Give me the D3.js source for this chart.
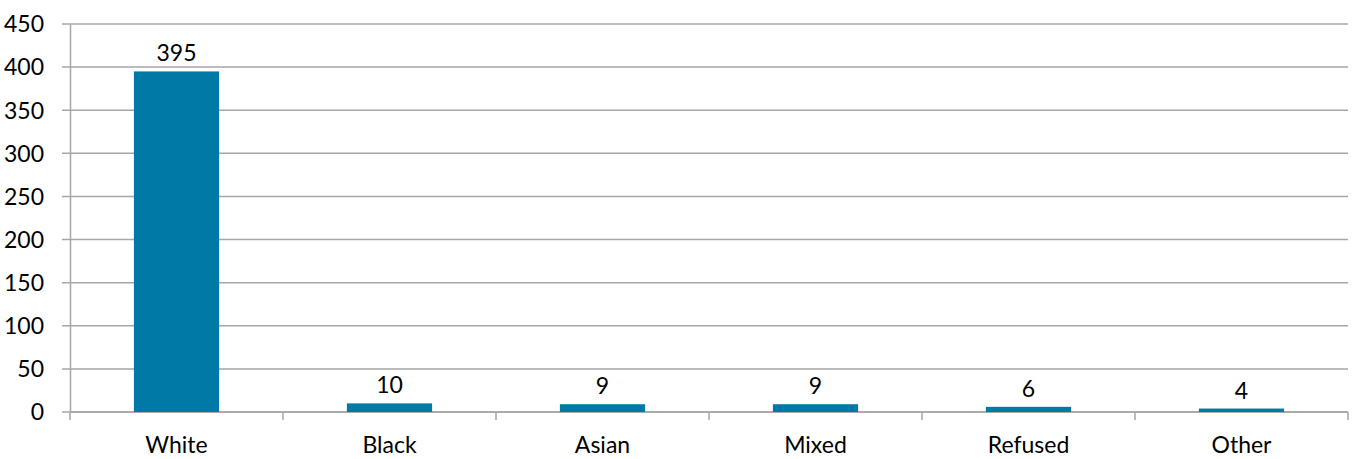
<!DOCTYPE html>
<html><head><meta charset="utf-8">
<script src="https://cdn.jsdelivr.net/npm/d3@7/dist/d3.min.js"></script>
<style>
html,body{margin:0;padding:0;background:#fff;}
text{font-family:Lato,"Open Sans",sans-serif;fill:#000;}
</style></head>
<body><svg id="c" width="1357" height="459"></svg>
<script>
const categories = ["White","Black","Asian","Mixed","Refused","Other"];
const values = [395,10,9,9,6,4];
const yTicks = [0,50,100,150,200,250,300,350,400,450];

const svg = d3.select("#c");
const m = {left:70, right:9, top:24, bottom:47};
const W = 1357, H = 459;
const x = d3.scaleBand().domain(categories).range([m.left, W-m.right]).paddingInner(0.6).paddingOuter(0.3);
const y = d3.scaleLinear().domain([0,450]).range([H-m.bottom, m.top]);
const grid = "#a6a6a6";
const fs = "23px";

// gridlines
svg.append("g").selectAll("line").data(yTicks).join("line")
  .attr("x1", m.left-8).attr("x2", W-m.right)
  .attr("y1", d=>y(d)).attr("y2", d=>y(d))
  .attr("stroke", grid).attr("stroke-width", 1.5);

// y axis
const ya = svg.append("g").attr("transform",`translate(${m.left},0)`)
  .call(d3.axisLeft(y).tickValues(yTicks).tickSize(0).tickPadding(26));
ya.select(".domain").attr("stroke", grid).attr("stroke-width",1.5);
ya.selectAll("text").style("font-size",fs).style("font-family","Lato").attr("dy","0.34em");

// x axis ticks
const bounds = d3.range(categories.length+1).map(i => m.left + i*(W-m.left-m.right)/categories.length);
svg.append("line").attr("x1",m.left).attr("x2",W-m.right).attr("y1",y(0)).attr("y2",y(0))
  .attr("stroke",grid).attr("stroke-width",1.5);
svg.append("g").selectAll("line").data(bounds).join("line")
  .attr("x1",d=>d).attr("x2",d=>d).attr("y1",y(0)).attr("y2",y(0)+8)
  .attr("stroke",grid).attr("stroke-width",1.5);

// bars
svg.append("g").selectAll("rect").data(values).join("rect")
  .attr("x",(d,i)=>x(categories[i])).attr("width",x.bandwidth())
  .attr("y",d=>y(d)).attr("height",d=>y(0)-y(d))
  .attr("fill","#0079a6");

// value labels
svg.append("g").selectAll("text").data(values).join("text")
  .attr("x",(d,i)=>x(categories[i])+x.bandwidth()/2)
  .attr("y",d=>y(d)-10)
  .attr("text-anchor","middle").style("font-size",fs)
  .text(d=>d);

// category labels
svg.append("g").selectAll("text").data(categories).join("text")
  .attr("x",d=>x(d)+x.bandwidth()/2).attr("y",453)
  .attr("text-anchor","middle").style("font-size",fs)
  .text(d=>d);
</script></body></html>
